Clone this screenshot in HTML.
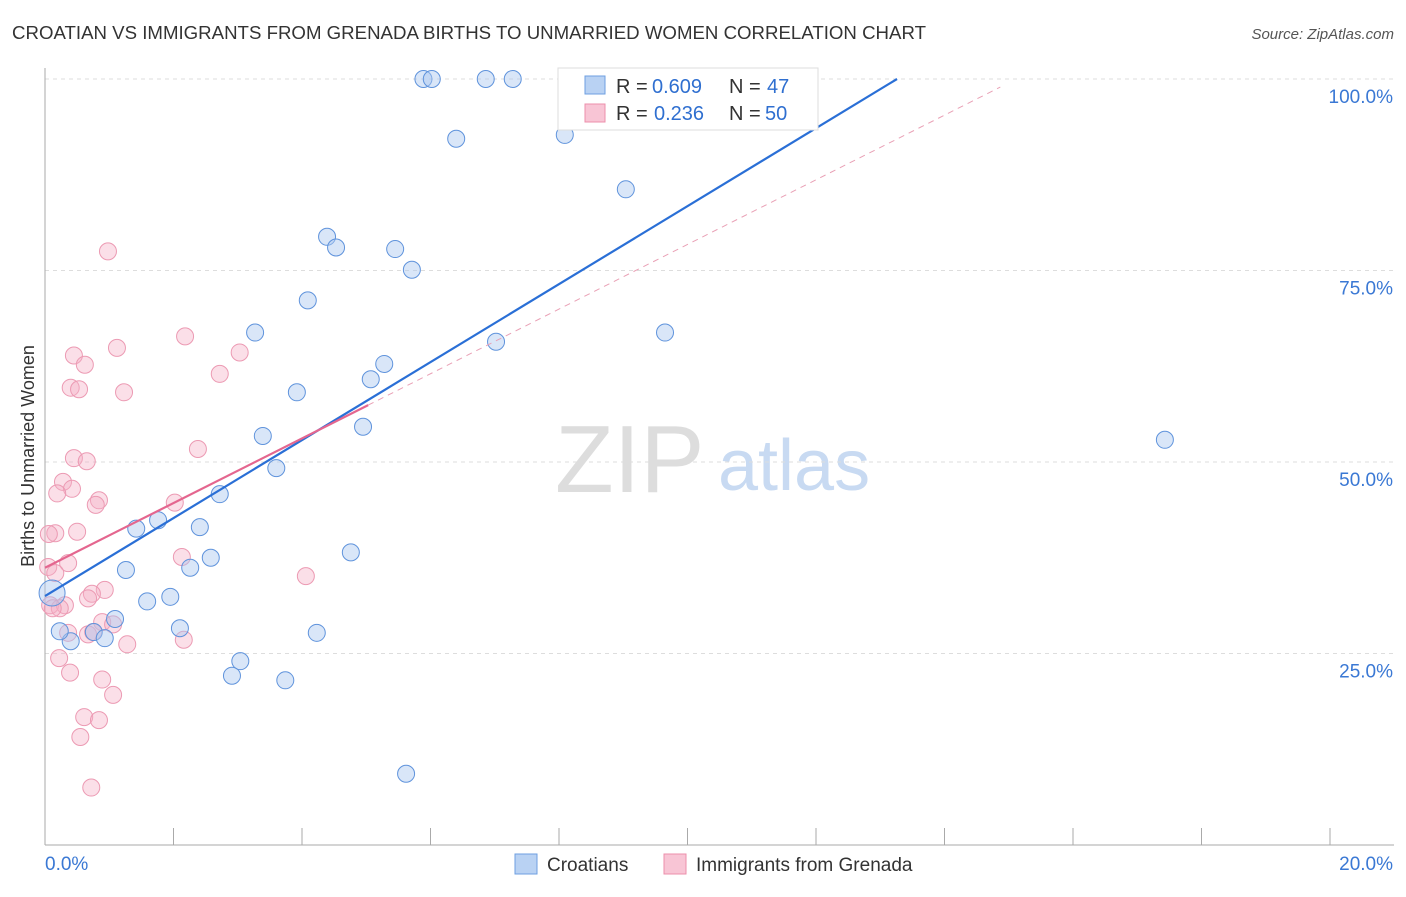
<!DOCTYPE html>
<html><head><meta charset="utf-8"><style>
body{margin:0;background:#fff;font-family:"Liberation Sans",sans-serif;}
svg text{font-family:"Liberation Sans",sans-serif;}
</style></head><body>
<svg id="c" width="1406" height="892">
<text x="12" y="39" font-size="18" fill="#333" textLength="914" lengthAdjust="spacingAndGlyphs">CROATIAN VS IMMIGRANTS FROM GRENADA BIRTHS TO UNMARRIED WOMEN CORRELATION CHART</text>
<text x="1394" y="39" font-size="15" fill="#555" text-anchor="end" font-style="italic">Source: ZipAtlas.com</text>
<text x="34" y="456" font-size="18" fill="#333" text-anchor="middle" transform="rotate(-90 34 456)">Births to Unmarried Women</text>
<text x="555" y="492" font-size="96" fill="#ddd" font-family="Liberation Serif">ZIP</text>
<text x="718" y="490" font-size="72" fill="#c8daf2">atlas</text>
<g id="grid"></g><g id="pts"></g><g id="lines"></g>
<g>
<rect x="558" y="68" width="260" height="62" fill="#fff" stroke="#ddd"/>
<rect x="585" y="76" width="20" height="18" fill="#b9d2f3" stroke="#6e9fe0"/>
<text x="616" y="93" font-size="20" fill="#333">R =</text><text x="652" y="93" font-size="20" fill="#2f6fd0">0.609</text>
<text x="729" y="93" font-size="20" fill="#333">N =</text><text x="767" y="93" font-size="20" fill="#2f6fd0">47</text>
<rect x="585" y="104" width="20" height="18" fill="#f8c5d5" stroke="#ec8fab"/>
<text x="616" y="120" font-size="20" fill="#333">R =</text><text x="654" y="120" font-size="20" fill="#2f6fd0">0.236</text>
<text x="729" y="120" font-size="20" fill="#333">N =</text><text x="765" y="120" font-size="20" fill="#2f6fd0">50</text>
</g>
<g>
<rect x="515" y="854" width="22" height="20" fill="#b9d2f3" stroke="#6e9fe0"/>
<text x="547" y="871" font-size="19" fill="#333">Croatians</text>
<rect x="664" y="854" width="22" height="20" fill="#f8c5d5" stroke="#ec8fab"/>
<text x="696" y="871" font-size="19" fill="#333">Immigrants from Grenada</text>
</g>
</svg>
<script>
const yTicks=[25,50,75,100];
const xTickLabels=["0.0%","20.0%"];
const blueX=[5.89,6.02,6.86,7.28,8.50,8.92,6.40,8.09,9.04,4.39,4.53,5.45,5.71,4.09,3.27,9.65,7.02,5.28,5.07,3.92,4.95,3.39,17.43,3.60,2.72,1.42,1.76,2.41,2.58,4.76,1.26,2.26,1.59,1.95,1.09,2.10,0.76,0.93,0.40,0.23,4.23,3.04,2.91,3.74,5.62,0.11];
const blueY=[100,100,100,100,99.6,100,92.2,92.7,85.6,79.4,78.0,77.8,75.1,71.1,66.9,66.9,65.7,62.8,60.8,59.1,54.6,53.4,52.9,49.2,45.8,41.3,42.4,41.5,37.5,38.2,35.9,36.2,31.8,32.4,29.5,28.3,27.8,27.0,26.6,27.9,27.7,24.0,22.1,21.5,9.3,32.9];
const pinkX=[0.98,2.18,1.12,3.03,0.45,0.62,2.72,0.40,0.53,1.23,2.38,0.45,0.65,0.28,0.42,0.19,0.84,0.79,2.02,0.16,0.06,0.50,2.13,0.36,0.05,0.16,4.06,0.93,0.73,0.67,0.08,0.31,0.23,0.12,0.89,1.06,0.36,0.67,0.75,1.28,2.16,0.22,0.39,0.89,1.06,0.61,0.84,0.55,0.72];
const pinkY=[77.5,66.4,64.9,64.3,63.9,62.7,61.5,59.7,59.5,59.1,51.7,50.5,50.1,47.4,46.5,45.9,45.0,44.4,44.7,40.7,40.6,40.9,37.6,36.8,36.3,35.5,35.1,33.3,32.8,32.2,31.3,31.3,30.9,30.9,29.1,28.8,27.7,27.5,27.8,26.2,26.8,24.4,22.5,21.6,19.6,16.7,16.3,14.1,7.5];
const blueLine=[32.5,5.09], pinkLine=[36.2,4.22];
const X=v=>45+v*64.25, Y=v=>845-v*7.66;
const NS="http://www.w3.org/2000/svg";
function mk(t,a,p){const e=document.createElementNS(NS,t);for(const k in a)e.setAttribute(k,a[k]);p.appendChild(e);return e;}
const g=document.getElementById('grid');
yTicks.forEach(v=>{
 const l=mk('line',{x1:45,x2:1394,y1:Y(v),y2:Y(v),stroke:'#ddd','stroke-dasharray':'4,4'},g);
 
 
 const t=mk('text',{x:1393,y:Y(v)+24,'font-size':19,fill:'#3a78d4','text-anchor':'end'},g);
 t.textContent=v.toFixed(1)+'%';
 
 
});
mk('line',{x1:45,x2:45,y1:68,y2:845,stroke:'#aaa'},g);
mk('line',{x1:45,x2:1394,y1:845,y2:845,stroke:'#aaa'},g);
for(let i=0;i<=10;i++){mk('line',{x1:X(2*i),x2:X(2*i),y1:828,y2:845,stroke:'#aaa'},g);}
const t0=mk('text',{x:45,y:870,'font-size':19,fill:'#3a78d4'},g);t0.textContent=xTickLabels[0];


const t1=mk('text',{x:1393,y:870,'font-size':19,fill:'#3a78d4','text-anchor':'end'},g);t1.textContent=xTickLabels[1];


const p=document.getElementById('pts');
pinkX.forEach((x,i)=>{const c=mk('circle',{cx:X(x),cy:Y(pinkY[i]),r:8.5,fill:'rgba(246,176,198,0.4)',stroke:'#ec9ab3','stroke-width':1},p);
 
 });
blueX.forEach((x,i)=>{const r=i==blueX.length-1?13:8.5;const c=mk('circle',{cx:X(x),cy:Y(blueY[i]),r:r,fill:'rgba(170,199,240,0.45)',stroke:'#5f93dc','stroke-width':1},p);
 
 });
const L=document.getElementById('lines');
const bx2=(100-blueLine[0])/blueLine[1];
const bl=mk('line',{x1:X(0),y1:Y(blueLine[0]),x2:X(bx2),y2:Y(100),stroke:'#2a6fd6','stroke-width':2.2},L);


const px2=(100-pinkLine[0])/pinkLine[1]-0.25;
const pd=mk('line',{x1:X(5.03),y1:Y(pinkLine[0]+pinkLine[1]*5.03),x2:X(px2),y2:Y(pinkLine[0]+pinkLine[1]*px2),stroke:'#e9a0b5','stroke-width':1,'stroke-dasharray':'6,5'},L);


const pl=mk('line',{x1:X(0),y1:Y(pinkLine[0]),x2:X(5.03),y2:Y(pinkLine[0]+pinkLine[1]*5.03),stroke:'#e4668f','stroke-width':2.2},L);


</script>
</body></html>
